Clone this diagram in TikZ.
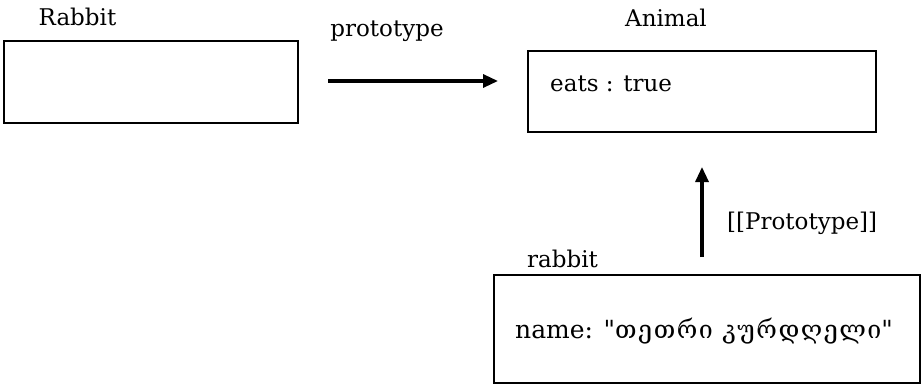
\documentclass[tikz,border=0pt]{standalone}
\usepackage{fontspec}
\setmainfont{DejaVu Serif}[Ligatures=TeXOff]
\newfontfamily\geofont{DejaVu Serif}[Ligatures=TeXOff, LetterSpace=6]
\usetikzlibrary{arrows.meta}
\tikzset{
  objbox/.style={draw=black, line width=1.8pt, rectangle, inner sep=0pt},
  lbl/.style={inner sep=0pt, font=\fontsize{23}{27}\selectfont},
  ptr/.style={line width=3.2pt, -{Triangle[length=15pt,width=13pt]}}
}
\begin{document}
\begin{tikzpicture}[x=1pt,y=-1pt]
\useasboundingbox (0,0) rectangle (923,385);
% boxes
\node[objbox, minimum width=294pt, minimum height=82pt] (rabbitbox) at (151,82) {};
\node[objbox, minimum width=348pt, minimum height=81pt] (animalbox) at (702,91.5) {};
\node[objbox, minimum width=426pt, minimum height=108pt] (objbox1) at (707,329) {};
% labels
\node[lbl, anchor=base] (tRabbit) at (77.5,26) {Rabbit};
\node[lbl, anchor=base] (tproto) at (387,37) {prototype};
\node[lbl, anchor=base] (tAnimal) at (666,27) {Animal};
\node[lbl, anchor=base west] (teats) at (550,92) {eats : true};
\node[lbl, anchor=base west] (tPP) at (727,229) {[[Prototype]]};
\node[lbl, anchor=base west] (trabbit) at (527,267) {rabbit};
\node[lbl, anchor=base west, font=\fontsize{25}{29}\selectfont] (tname) at (515,338) {name: "{\geofont თეთრი კურდღელი}"};
% arrows
\coordinate (h1) at (328,81);
\coordinate (h2) at (498,81);
\coordinate (v1) at (702,257);
\coordinate (v2) at (702,167);
\draw[ptr] (h1) -- (h2);
\draw[ptr] (v1) -- (v2);
\end{tikzpicture}
\end{document}
